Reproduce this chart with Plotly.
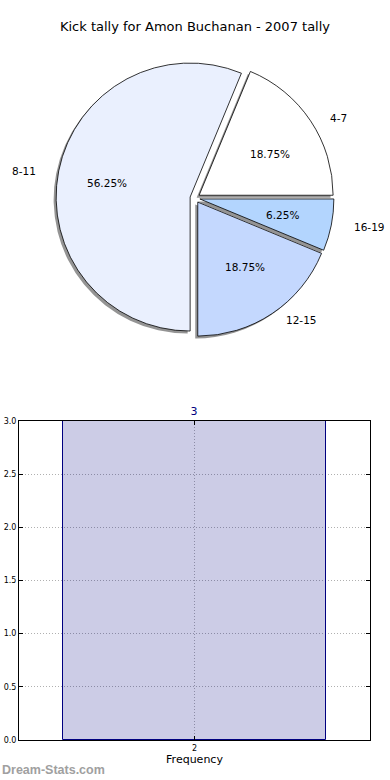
import numpy as np
import plotly.graph_objects as go

# ---- data ----
pie_labels = ["4-7", "8-11", "12-15", "16-19"]
pie_values = [3, 9, 3, 1]
pie_colors = ["#ffffff", "#eaf0fe", "#c4d8fe", "#b3d5fe"]

bar_x = [2]
bar_y = [3]
bar_text = ["3"]
y_ticks = [0.0, 0.5, 1.0, 1.5, 2.0, 2.5, 3.0]
y_tick_labels = ["0.0", "0.5", "1.0", "1.5", "2.0", "2.5", "3.0"]

W, H = 390, 780
FONT = "DejaVu Sans"

def px_x(p):
    return p / W

def px_y(p):
    return 1 - p / H

# pie geometry (pixels)
cx, cy = 195, 198
r = 134
pull = 0.037
half = r * (1 + pull)
sh = 2.5  # shadow offset in px
# text placement ellipse (reference axes are not equal-aspect)
rx, ry = 141, 128
explode = 0.036

fig = go.Figure()

# shadow pie
fig.add_trace(go.Pie(
    labels=pie_labels, values=pie_values, sort=False, direction="counterclockwise",
    rotation=22.5, pull=[pull] * 4,
    marker=dict(colors=["rgba(60,60,60,0.55)"] * 4, line=dict(width=0)),
    textinfo="none",
    domain=dict(x=[px_x(cx - half - sh), px_x(cx + half - sh)],
                y=[px_y(cy + half + sh), px_y(cy - half + sh)]),
    hoverinfo="skip", showlegend=False,
))

# main pie
fig.add_trace(go.Pie(
    labels=pie_labels, values=pie_values, sort=False, direction="counterclockwise",
    rotation=22.5, pull=[pull] * 4,
    marker=dict(colors=pie_colors, line=dict(color="black", width=0.8)),
    textinfo="none",
    domain=dict(x=[px_x(cx - half), px_x(cx + half)],
                y=[px_y(cy + half), px_y(cy - half)]),
    showlegend=False,
))

# pie texts placed like matplotlib (labels at 1.1 r, percentages at 0.6 r)
vals = np.array(pie_values, dtype=float)
fracs = vals / vals.sum()
starts = np.concatenate([[0], np.cumsum(fracs)[:-1]])
mids = 2 * np.pi * (starts + fracs / 2)
for lab, f, a in zip(pie_labels, fracs, mids):
    c, s = np.cos(a), np.sin(a)
    ox, oy = explode * rx * c, explode * ry * s
    lx, ly = cx + ox + 1.1 * rx * c, cy + 1 - oy - 1.1 * ry * s
    fig.add_annotation(text=lab, xref="paper", yref="paper", x=px_x(lx), y=px_y(ly),
                       xanchor="left" if c > 0 else "right", yanchor="middle",
                       showarrow=False, font=dict(family=FONT, size=10.5, color="black"))
    tx, ty = cx + ox + 0.6 * rx * c, cy + 1 - oy - 0.6 * ry * s
    fig.add_annotation(text=f"{f * 100:.2f}%", xref="paper", yref="paper",
                       x=px_x(tx), y=px_y(ty), xanchor="center", yanchor="middle",
                       showarrow=False, font=dict(family=FONT, size=10.5, color="black"))

# bar chart
fig.add_trace(go.Bar(
    x=bar_x, y=bar_y, width=0.8,
    marker=dict(color="rgba(0,0,128,0.2)", line=dict(color="navy", width=1)),
    text=bar_text, textposition="outside", cliponaxis=False,
    textfont=dict(family=FONT, size=11, color="navy"),
    showlegend=False,
))

fig.update_layout(
    width=W, height=H,
    margin=dict(l=0, r=0, t=0, b=0),
    paper_bgcolor="white", plot_bgcolor="white",
    font=dict(family=FONT, size=11, color="black"),
    title=dict(text="Kick tally for Amon Buchanan - 2007 tally", x=0.5, xanchor="center",
               y=px_y(22), yanchor="top", font=dict(family=FONT, size=13, color="black")),
    xaxis=dict(domain=[px_x(19), px_x(370)], range=[1.468, 2.532], automargin=False,
               tickvals=bar_x, ticktext=[str(v) for v in bar_x],
               ticks="inside", ticklen=4, tickcolor="black", mirror="ticks",
               showline=True, linecolor="black", linewidth=1,
               showgrid=True, gridcolor="#b0b0b0", griddash="1px,2px", gridwidth=1,
               zeroline=False, tickfont=dict(family=FONT, size=8),
               title=dict(text="Frequency", font=dict(family=FONT, size=11), standoff=2)),
    yaxis=dict(domain=[px_y(740), px_y(421)], range=[0, 3], automargin=False,
               tickvals=y_ticks, ticktext=y_tick_labels,
               ticks="inside", ticklen=4, tickcolor="black", mirror="ticks",
               showline=True, linecolor="black", linewidth=1,
               showgrid=True, gridcolor="#b0b0b0", griddash="1px,2px", gridwidth=1,
               zeroline=False, tickfont=dict(family=FONT, size=8)),
    bargap=0,
)

fig.add_annotation(text="<b>Dream-Stats.com</b>", xref="paper", yref="paper",
                   x=0, y=px_y(770), xanchor="left", yanchor="middle", showarrow=False,
                   font=dict(family="Liberation Sans", size=12.5, color="#a0a0a0"))

fig.write_html("out.html", config={"displayModeBar": False},
               post_script="document.body.style.margin='0';")
